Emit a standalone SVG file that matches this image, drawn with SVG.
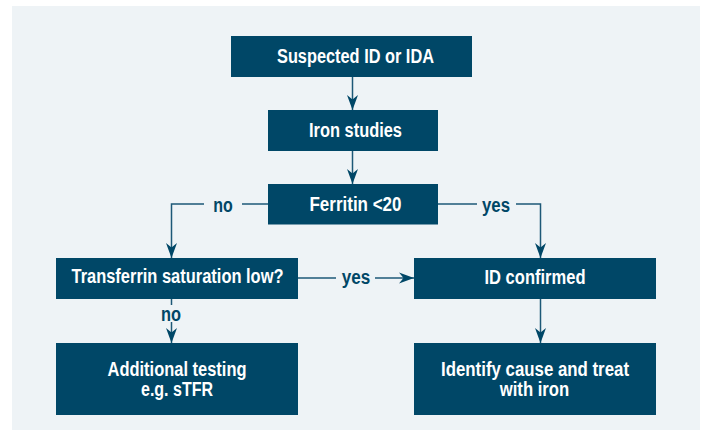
<svg xmlns="http://www.w3.org/2000/svg" width="703" height="432" viewBox="0 0 703 432">
<style>
.box{fill:#004767}
.t{font-family:"Liberation Sans",Arial,sans-serif;font-weight:bold;font-size:19.5px;fill:#ffffff;text-anchor:middle}
.lbl{font-family:"Liberation Sans",Arial,sans-serif;font-weight:bold;font-size:19.5px;fill:#004767;text-anchor:middle}
.ln{fill:none;stroke:#1d5877;stroke-width:1.5}
</style>
<defs>
<marker id="ah" markerUnits="userSpaceOnUse" viewBox="-16 -7 17 14" refX="0" refY="0" markerWidth="17" markerHeight="14" orient="auto">
<path d="M0,0 L-15,-5.5 L-10.5,0 L-15,5.5 Z" fill="#004767"/>
</marker>
</defs>
<rect x="0" y="0" width="703" height="432" fill="#ffffff"/>
<rect x="12" y="6" width="688" height="424" fill="#eef3f6"/>
<g id="connectors">
<path class="ln" d="M352.5,77 V110" marker-end="url(#ah)"/>
<path class="ln" d="M352.5,151 V184" marker-end="url(#ah)"/>
<path class="ln" d="M268,204 H242"/>
<path class="ln" d="M204,204 H171.5 V258" marker-end="url(#ah)"/>
<text class="lbl" x="223" y="212" textLength="19.5" lengthAdjust="spacingAndGlyphs">no</text>
<path class="ln" d="M438,204 H477"/>
<path class="ln" d="M516,204 H540.5 V258" marker-end="url(#ah)"/>
<text class="lbl" x="496" y="212" textLength="28" lengthAdjust="spacingAndGlyphs">yes</text>
<path class="ln" d="M298,278 H336"/>
<path class="ln" d="M375,278 H414" marker-end="url(#ah)"/>
<text class="lbl" x="356" y="284" textLength="28.5" lengthAdjust="spacingAndGlyphs">yes</text>
<path class="ln" d="M171.5,299 V305"/>
<path class="ln" d="M171.5,322 V343" marker-end="url(#ah)"/>
<text class="lbl" x="171" y="320.5" textLength="20" lengthAdjust="spacingAndGlyphs">no</text>
<path class="ln" d="M540.5,299 V343" marker-end="url(#ah)"/>
</g>
<g id="suspected">
<rect class="box" x="231" y="36" width="241" height="41"/>
<text class="t" x="355.5" y="62.5" textLength="157" lengthAdjust="spacingAndGlyphs">Suspected ID or IDA</text>
</g>
<g id="iron-studies">
<rect class="box" x="268" y="110" width="170" height="41"/>
<text class="t" x="355.5" y="136.5" textLength="93" lengthAdjust="spacingAndGlyphs">Iron studies</text>
</g>
<g id="ferritin">
<rect class="box" x="268" y="184" width="170" height="40.5"/>
<text class="t" x="355.5" y="210.5" textLength="92" lengthAdjust="spacingAndGlyphs">Ferritin &lt;20</text>
</g>
<g id="transferrin">
<rect class="box" x="56" y="258" width="242" height="41"/>
<text class="t" x="177.5" y="283" textLength="212" lengthAdjust="spacingAndGlyphs">Transferrin saturation low?</text>
</g>
<g id="id-confirmed">
<rect class="box" x="414" y="258" width="242" height="41"/>
<text class="t" x="535" y="283.5" textLength="101" lengthAdjust="spacingAndGlyphs">ID confirmed</text>
</g>
<g id="additional">
<rect class="box" x="56" y="343" width="242" height="72"/>
<text class="t" x="177" y="375.5" textLength="139" lengthAdjust="spacingAndGlyphs">Additional testing</text>
<text class="t" x="177" y="396" textLength="72" lengthAdjust="spacingAndGlyphs">e.g. sTFR</text>
</g>
<g id="identify">
<rect class="box" x="414" y="343" width="242" height="72"/>
<text class="t" x="535" y="375.5" textLength="188" lengthAdjust="spacingAndGlyphs">Identify cause and treat</text>
<text class="t" x="534.5" y="396" textLength="69.5" lengthAdjust="spacingAndGlyphs">with iron</text>
</g>
</svg>
